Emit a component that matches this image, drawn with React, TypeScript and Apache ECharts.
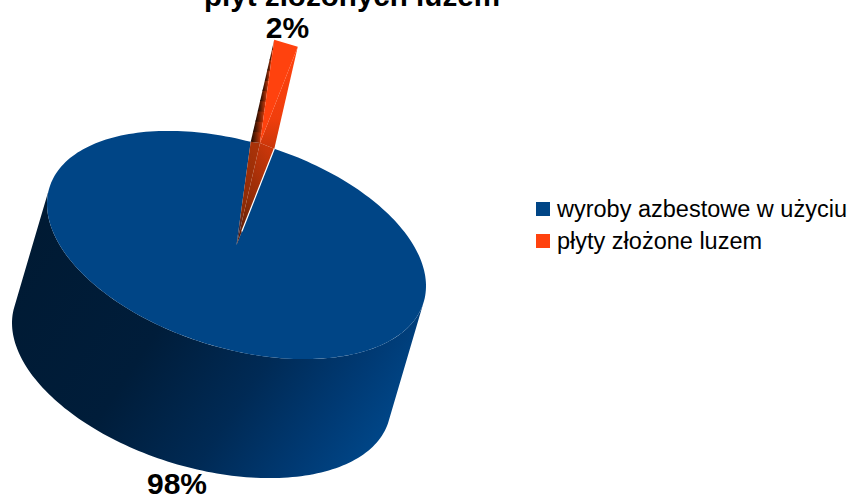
import React, { useEffect, useRef } from "react";
import * as echarts from "echarts";

const categories = ["wyroby azbestowe w użyciu", "płyty złożone luzem"];
const values = [98, 2];
const colors = ["#004586", "#ff420e"];
const titleText = "płyt złożonych luzem";

const FONT = '"Liberation Sans", Arial, sans-serif';
const START = 85.7;
const CX = 236.5, CY = 245;
const AX = 189.5, CY_COS = 41, DY = 106.5;
const DEPTH: [number, number] = [-35, 119];
const LIFT: [number, number] = [23.5, -102];

const total = values.reduce((a, b) => a + b, 0);

type P = [number, number];
function pt(deg: number): P {
  const t = (deg * Math.PI) / 180;
  return [CX + AX * Math.cos(t), CY + CY_COS * Math.cos(t) - DY * Math.sin(t)];
}
const add = (p: P, d: P): P => [p[0] + d[0], p[1] + d[1]];
const lerp = (a: P, b: P, f: number): P => [a[0] + (b[0] - a[0]) * f, a[1] + (b[1] - a[1]) * f];
function arc(a: number, b: number): P[] {
  const n = Math.max(2, Math.ceil(Math.abs(b - a) / 1.5));
  const out: P[] = [];
  for (let i = 0; i <= n; i++) out.push(pt(a + ((b - a) * i) / n));
  return out;
}
function sliceRange(i: number): P {
  let a = START;
  for (let k = 0; k < i; k++) a += (values[k] / total) * 360;
  return [a, a + (values[i] / total) * 360];
}
const G = (x: number, y: number, x2: number, y2: number, stops: [number, string][]) =>
  new echarts.graphic.LinearGradient(x, y, x2, y2, stops.map(([offset, color]) => ({ offset, color })));
const poly = (points: P[], fill: any) => ({
  type: "polygon",
  silent: true,
  shape: { points },
  style: { fill },
});

function label(text: string, x: number, y: number) {
  return {
    type: "text",
    silent: true,
    style: { text, x, y, fill: "#000", font: `bold 30px ${FONT}`, textAlign: "center", textVerticalAlign: "middle" },
  };
}

function renderBig(params: any, api: any) {
  const v = api.value(0);
  const [a, b] = sliceRange(params.seriesIndex);
  const tangent = (Math.atan2(DY * DEPTH[0], AX * DEPTH[1] - CY_COS * DEPTH[0]) * 180) / Math.PI;
  let from = tangent, to = tangent + 180;
  if (pt((from + to) / 2)[1] < CY) { from += 180; to += 180; }
  const rim = arc(from, to);
  const sidePts = [...rim, ...rim.slice().reverse().map((p) => add(p, DEPTH))];
  return {
    type: "group",
    children: [
      poly(sidePts, G(0, 0.15, 1, 0.62, [
        [0, "#001a33"], [0.42, "#001d3a"], [0.68, "#002a55"], [0.88, "#003a74"], [1, "#004586"],
      ])),
      poly([[CX, CY], ...arc(a, b)], colors[params.seriesIndex]),
      label(`${Math.round((v / total) * 100)}%`, 177, 483),
    ],
  };
}

function renderSmall(params: any, api: any) {
  const v = api.value(0);
  const [a, b] = sliceRange(params.seriesIndex);
  const apex: P = [CX, CY];
  const rightRim = pt(a), leftRim = pt(b);
  const la = add(apex, LIFT), lLeft = add(leftRim, LIFT), lRight = add(rightRim, LIFT);
  const bands: any[] = [];
  const N = 10;
  for (let i = 0; i < N; i++) {
    const f0 = i / N, f1 = (i + 1) / N;
    bands.push(
      poly(
        [lerp(leftRim, lLeft, f0), lerp(la, lLeft, f0), lerp(la, lLeft, f1 + 0.01), lerp(leftRim, lLeft, f1 + 0.01)],
        G(0, 0.5, 1, 0.5, [[0, "#160700"], [0.45, "#6a2004"], [1, "#d23a0b"]])
      )
    );
  }
  const tip = lerp(rightRim, apex, 0.86);
  return {
    type: "group",
    children: [
      poly([rightRim, la, lRight], G(0.5, 0, 0.5, 1, [[0, "#ff420e"], [0.7, "#f03e0c"], [1, "#c9360a"]])),
      poly([apex, rightRim, la], G(0.7, 0, 0.2, 1, [[0, "#c8360a"], [0.6, "#8f2c07"], [1, "#5a1a05"]])),
      poly([apex, la, leftRim], G(0.6, 0, 0.2, 1, [[0, "#a83208"], [0.7, "#8a2a06"], [1, "#1a2a50"]])),
      ...bands,
      poly([la, lLeft, lRight], colors[params.seriesIndex]),
      {
        type: "line",
        silent: true,
        shape: { x1: rightRim[0], y1: rightRim[1], x2: tip[0], y2: tip[1] },
        style: { stroke: "#ffffff", lineWidth: 1.2 },
      },
      label(`${Math.round((v / total) * 100)}%`, 287.5, 27),
    ],
  };
}

export default function App() {
  const ref = useRef<HTMLDivElement>(null);
  useEffect(() => {
    document.body.style.margin = "0";
    const chart = echarts.init(ref.current!, undefined, { renderer: "svg" });
    chart.setOption({
      animation: false,
      backgroundColor: "#ffffff",
      color: colors,
      title: {
        text: titleText,
        left: 347,
        textAlign: "center",
        top: -25,
        textStyle: { fontFamily: FONT, fontWeight: "bold", fontSize: 29.6, color: "#000" },
      },
      legend: {
        orient: "vertical",
        left: 536,
        top: 197,
        padding: 0,
        icon: "rect",
        itemWidth: 14,
        itemHeight: 14,
        itemGap: 8,
        selectedMode: false,
        data: categories,
        textStyle: { fontFamily: FONT, fontSize: 23.5, color: "#000", padding: [4, 0, 0, 2] },
      },
      series: categories.map((name, i) => ({
        type: "custom",
        name,
        coordinateSystem: "none",
        clip: false,
        silent: true,
        itemStyle: { color: colors[i] },
        data: [[values[i]]],
        renderItem: i === 0 ? renderBig : renderSmall,
      })),
    });
    return () => chart.dispose();
  }, []);
  return <div ref={ref} style={{ width: 850, height: 496 }} />;
}
